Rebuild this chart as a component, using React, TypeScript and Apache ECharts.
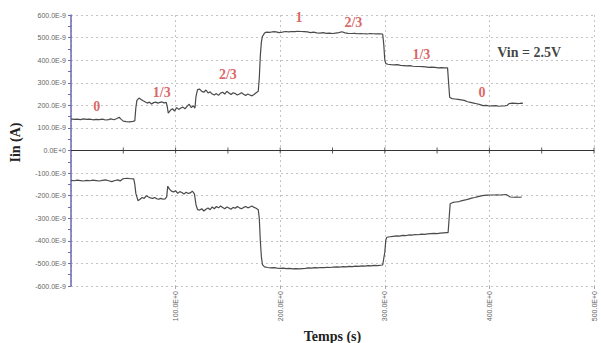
import React, { useEffect, useRef } from "react";
import * as echarts from "echarts";

// Time (s) and current (in nA, i.e. E-9 A) of the upper (positive) trace
const upperT = [
  0, 3, 6, 9, 12, 15, 18, 21, 24, 27, 30, 33, 36, 38, 41, 44, 46, 48, 50, 53, 56, 59, 61,
  62, 63, 65, 67, 69, 71, 73, 75, 77, 79, 81, 83, 85, 87, 89, 91, 92,
  93, 95, 97, 99, 101, 103, 105, 107, 109, 111, 113, 115, 117, 118.5,
  119.5, 121, 123, 125, 127, 129, 131, 133, 135, 137, 139, 141, 143, 145, 147, 149, 151, 153, 155, 157, 159, 161, 163, 165, 167, 169, 171, 173, 175, 177, 179,
  180, 181, 182, 183, 185, 187, 190, 193, 196, 199, 202, 205, 208, 211, 214, 217, 220, 223, 226, 229, 232, 235, 238, 241, 244, 247, 250, 253, 256, 259, 262, 265, 268, 271, 274, 277, 280, 283, 286, 289, 292, 295, 298,
  299, 300, 301, 303, 306, 309, 312, 315, 318, 321, 324, 327, 330, 333, 336, 339, 342, 345, 348, 351, 354, 357, 360,
  361, 362, 364, 367, 370, 373, 376, 379, 382, 385, 388, 391, 394, 397, 400, 403, 406, 409, 412, 415, 417, 419, 422, 425, 428, 431, 432,
];
const upperI = [
  140, 138, 139, 137, 140, 138, 139, 136, 138, 137, 139, 135, 137, 140, 136, 142, 147, 138, 130, 128, 127, 129, 131,
  190, 222, 232, 226, 220, 215, 210, 214, 206, 212, 214, 210, 213, 215, 211, 213, 195,
  165, 178, 185, 175, 190, 182, 188, 192, 185, 195, 205, 190, 198, 188,
  240, 270, 272, 262, 258, 268, 255, 260, 250, 246, 252, 244, 254, 258, 250, 262, 255, 248, 256, 252, 246, 250, 256, 249, 244, 250, 246, 242, 248, 256, 262,
  320, 420, 480, 505, 520, 524, 523, 526, 525, 522, 524, 527, 525, 527, 526, 528, 527, 526, 525, 522, 524, 521, 520, 522, 519, 520, 518, 520, 522, 526, 521, 519, 518, 519, 517, 518, 517, 516, 518, 517, 516, 517, 515,
  470, 400, 385, 382, 380, 379, 380, 377, 376, 375, 376, 373, 372, 372, 371, 370, 368, 369, 368, 366, 367, 366, 366,
  300, 236, 230, 228, 226, 224, 222, 216, 213, 210, 207, 203, 199, 200, 197, 198, 199, 196, 197, 198, 200, 208, 210, 209, 208, 210, 209,
];

// Time (s) and current (nA) of the lower (negative) trace
const lowerT = [
  0, 3, 6, 9, 12, 15, 18, 21, 24, 27, 30, 33, 36, 39, 42, 45, 47, 49, 51, 54, 57, 60,
  61, 62, 64, 66, 68, 70, 72, 74, 76, 78, 80, 82, 84, 86, 88, 90, 91.5,
  92.5, 94, 96, 98, 100, 102, 104, 106, 108, 110, 112, 114, 116, 118,
  119.5, 121, 123, 125, 127, 129, 131, 133, 135, 137, 139, 141, 143, 145, 147, 149, 151, 153, 155, 157, 159, 161, 163, 165, 167, 169, 171, 173, 175, 177, 179,
  180, 181, 182, 183, 185, 188, 191, 194, 197, 200, 203, 206, 209, 212, 215, 218, 221, 224, 227, 230, 233, 236, 239, 242, 245, 248, 251, 254, 257, 260, 263, 266, 269, 272, 275, 278, 281, 284, 287, 290, 293, 296, 298,
  300, 301, 302, 305, 308, 311, 314, 317, 320, 323, 326, 329, 332, 335, 338, 341, 344, 347, 350, 353, 356, 359, 360.5,
  361.5, 362.5, 365, 368, 371, 374, 377, 380, 383, 386, 389, 392, 395, 398, 401, 404, 407, 410, 413, 416, 418, 420, 423, 426, 429, 431,
];
const lowerI = [
  -132, -134, -131, -133, -135, -132, -134, -131, -133, -135, -132, -130, -134, -138, -133, -130, -135, -127, -124, -123, -125, -126,
  -150, -190, -222, -216, -208, -212, -200, -206, -210, -212, -208, -214, -215, -212, -216, -214, -205,
  -158, -170, -180, -184, -178, -190, -182, -186, -193, -185, -190, -188, -180, -192,
  -240, -262, -264, -258, -268, -260, -255, -262, -250, -258, -248, -254, -246, -252, -258, -250, -255, -260, -252, -256, -248, -254, -258, -252, -248, -254, -250, -246, -252, -256, -262,
  -300, -400, -470, -505, -515, -518, -520, -519, -521, -522, -521, -523, -522, -524, -523, -524, -523, -522, -520, -521, -519, -520, -518, -519, -517, -518, -516, -515, -516, -514, -515, -513, -514, -512, -513, -511, -512, -510, -511, -509, -510, -508, -507,
  -450, -395, -384, -382, -380, -378, -379, -376, -377, -374, -375, -372, -373, -370, -371, -369, -368, -367, -368, -366, -365, -364, -364,
  -300, -236, -230, -228, -226, -222, -219, -215, -211, -208, -204, -201, -199, -198, -197, -197, -196, -197, -196, -195, -200, -206, -207, -206, -207, -206,
];

// Annotations (fraction labels) placed in data coordinates
const noteText = ["0", "1/3", "2/3", "1", "2/3", "1/3", "0"];
const noteT = [24.5, 86.7, 150, 218, 270, 335, 393];
const noteI = [197, 258, 338, 587, 569, 427, 259];
const vinText = "Vin = 2.5V";
const vinT = 438;
const vinI = 435;

// Axis ticks
const yTicks = [-600, -500, -400, -300, -200, -100, 0, 100, 200, 300, 400, 500, 600];
const xTicks = [0, 100, 200, 300, 400, 500];
const zeroLineTicks = [50, 100, 150, 200, 250, 300, 350, 400, 450, 500];

const pairs = (t: number[], v: number[]) => t.map((x, i) => [x, v[i]]);

export default function App() {
  const ref = useRef<HTMLDivElement>(null);
  useEffect(() => {
    if (!ref.current) return;
    const chart = echarts.init(ref.current, null, { renderer: "svg" });
    const serif = "'Liberation Serif', 'DejaVu Serif', serif";
    const sans = "'Liberation Sans', Arial, sans-serif";
    const gridLine = { show: true, lineStyle: { color: "#c4c4c4", type: [2, 3] as any, width: 1 } };
    chart.setOption({
      animation: false,
      backgroundColor: "#ffffff",
      grid: { left: 71, right: 7, top: 15, bottom: 57, containLabel: false, outerBoundsMode: "none" },
      xAxis: {
        type: "value",
        min: xTicks[0],
        max: xTicks[xTicks.length - 1],
        interval: 100,
        position: "bottom",
        axisLine: { show: false, onZero: false },
        axisTick: { show: true, length: 3, lineStyle: { color: "#aaaaaa" } },
        axisLabel: {
          rotate: 90,
          showMinLabel: false,
          fontSize: 7,
          color: "#666666",
          fontFamily: sans,
          margin: 5,
          formatter: (v: number) => `${v}.0E+0`,
        },
        splitLine: gridLine,
        name: "Temps (s)",
        nameLocation: "middle",
        nameGap: 43,
        nameTextStyle: { fontFamily: serif, fontWeight: "bold", fontSize: 14, color: "#222222" },
      },
      yAxis: {
        type: "value",
        min: yTicks[0],
        max: yTicks[yTicks.length - 1],
        interval: 100,
        axisLine: { show: true, onZero: false, lineStyle: { color: "#6a6ab0", width: 1.5 } },
        axisTick: { show: true, length: 3, lineStyle: { color: "#6a6ab0" } },
        minorTick: { show: true, splitNumber: 2, length: 3, lineStyle: { color: "#6a6ab0" } },
        axisLabel: {
          fontSize: 7,
          color: "#666666",
          fontFamily: sans,
          margin: 5,
          formatter: (v: number) => (v === 0 ? "0.0E+0" : `${v}.0E-9`),
        },
        splitLine: gridLine,
        name: "Iin (A)",
        nameLocation: "middle",
        nameGap: 49,
        nameTextStyle: { fontFamily: serif, fontWeight: "bold", fontSize: 14, color: "#222222", padding: [0, 0, 0, 16] },
      },
      series: [
        {
          type: "line",
          data: pairs(upperT, upperI),
          showSymbol: false,
          lineStyle: { color: "#4a4a4a", width: 1.2 },
          z: 3,
          markLine: {
            silent: true,
            symbol: "none",
            label: { show: false },
            lineStyle: { color: "#333333", type: "solid", width: 1 },
            data: [{ yAxis: 0 }],
          },
        },
        {
          type: "line",
          data: pairs(lowerT, lowerI),
          showSymbol: false,
          lineStyle: { color: "#4a4a4a", width: 1.2 },
          z: 3,
        },
        {
          // small tick marks on the zero line
          type: "scatter",
          silent: true,
          symbol: "rect",
          symbolSize: [1, 6],
          itemStyle: { color: "#333333" },
          data: zeroLineTicks.map((t) => [t, 0]),
          z: 4,
        },
        {
          type: "scatter",
          symbolSize: 0,
          silent: true,
          data: noteT.map((t, i) => ({ value: [t, noteI[i]], name: noteText[i] })),
          label: {
            show: true,
            position: "inside",
            formatter: (p: any) => p.name,
            fontFamily: serif,
            fontWeight: "bold",
            fontSize: 14,
            color: "#d23c3c",
          },
          z: 4,
        },
        {
          type: "scatter",
          symbolSize: 0,
          silent: true,
          data: [{ value: [vinT, vinI], name: vinText }],
          label: {
            show: true,
            position: "inside",
            formatter: (p: any) => p.name,
            fontFamily: serif,
            fontWeight: "bold",
            fontSize: 14,
            color: "#111111",
          },
          z: 4,
        },
      ],
    });
    return () => chart.dispose();
  }, []);
  return (
    <div
      ref={ref}
      style={{ position: "fixed", left: 0, top: 0, width: 601, height: 343, background: "#fff" }}
    />
  );
}
